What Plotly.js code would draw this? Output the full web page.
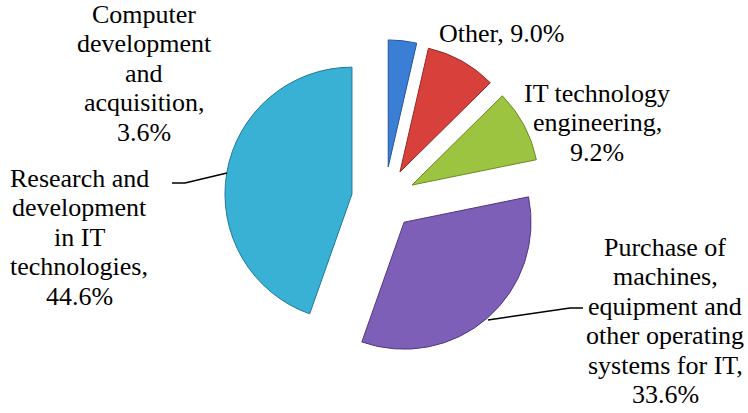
<!DOCTYPE html>
<html><head><meta charset="utf-8">
<script src="https://cdn.plot.ly/plotly-3.0.1.min.js"></script>
<style>
html,body{margin:0;padding:0;background:#fff}
#chart{width:748px;height:413px}
#chart text{font-family:"Liberation Serif","Times New Roman",Tinos,serif !important}
</style>
</head><body><div id="chart"></div>
<script>
// ---- data ----
const categories = [
  "Computer development and acquisition",
  "Other",
  "IT technology engineering",
  "Purchase of machines, equipment and other operating systems for IT",
  "Research and development in IT technologies"
];
const shares = [3.6, 9.0, 9.2, 33.6, 44.6];
// words per label line (line-wrapping of "category, value%")
const wrapWords = [[1,1,1,1,1],[2],[2,1,1],[2,1,2,2,3,1],[2,1,2,1,1]];

// ---- style ----
const W = 748, H = 413;
const FONT = 'Liberation Serif';
const colors = ['#3a7fd5', '#d8403c', '#9cc440', '#7d5fb8', '#38b1d5'];
const edge   = ['#24569a', '#962a27', '#6a8a28', '#52397f', '#21799a'];
const pulls  = [0.26, 0.25, 0.245, 0.235, 0.26];
const fontSize = 26;
const lineStep = 29.5;
// label anchor: centre x, first-line baseline y (pixels)
const labelAnchor = [[144, 23], [501, 43], [597, 102], [665, 256], [79, 187]];
// leader lines (pixels)
const leaders = [
  [[172,183],[185,183],[227,173]],
  [[488,320],[570,308],[583,308]]
];

const px = x => x / W;
const py = y => 1 - y / H;

const annotations = [];
categories.forEach((cat, i) => {
  const words = (cat + ', ' + shares[i].toFixed(1) + '%').split(' ');
  let k = 0;
  wrapWords[i].forEach((n, li) => {
    const line = words.slice(k, k + n).join(' ');
    k += n;
    const base = labelAnchor[i][1] + li * lineStep;
    annotations.push({
      x: px(labelAnchor[i][0]), y: py(base - 9), xref: 'paper', yref: 'paper',
      xanchor: 'center', yanchor: 'middle', showarrow: false,
      text: line, font: {family: FONT, size: fontSize, color: '#000'}
    });
  });
});

const shapes = leaders.map(pts => ({
  type: 'path', xref: 'paper', yref: 'paper',
  path: pts.map((p, j) => (j ? 'L' : 'M') + px(p[0]) + ',' + py(p[1])).join(' '),
  line: {color: '#000', width: 1.5}
}));

const trace = {
  type: 'pie',
  values: shares,
  labels: categories,
  sort: false,
  direction: 'clockwise',
  rotation: 0,
  pull: pulls,
  marker: {colors: colors, line: {color: edge, width: 1}},
  textinfo: 'none',
  hoverinfo: 'label+percent',
  showlegend: false,
  domain: {x: [224.5 / W, 544.5 / W], y: [1 - 359.7 / H, 1 - 39.7 / H]}
};

Plotly.newPlot('chart', [trace], {
  width: W, height: H,
  margin: {l: 0, r: 0, t: 0, b: 0},
  paper_bgcolor: '#fff',
  showlegend: false,
  annotations: annotations,
  shapes: shapes,
  font: {family: FONT}
}, {displayModeBar: false});
</script></body></html>
